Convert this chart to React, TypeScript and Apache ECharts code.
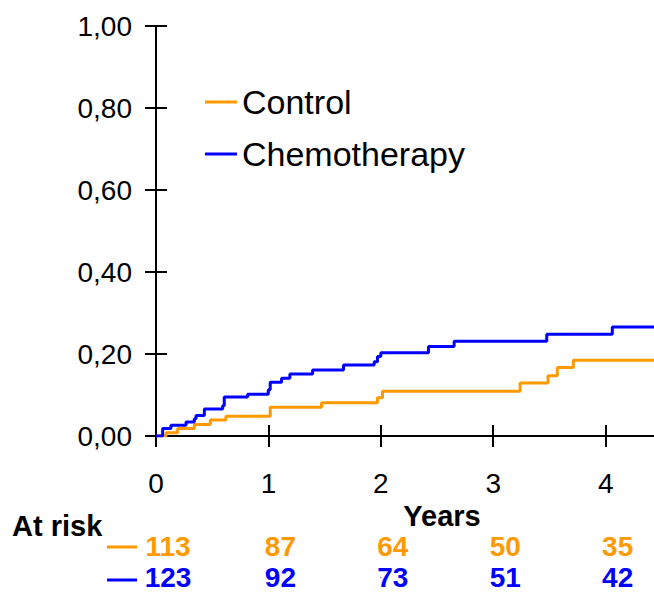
import React, { useEffect, useRef } from "react";
import * as echarts from "echarts";

const FONT = "'Liberation Sans', Arial, Helvetica, sans-serif";
const ORANGE = "#FF9900";
const BLUE = "#0000FF";
const X_MAX = 4.43;

const seriesNames = ["Control", "Chemotherapy"];

const controlTimes = [0, 0.089, 0.193, 0.341, 0.483, 0.622, 1.016, 1.473, 1.97, 2.015, 3.239, 3.487, 3.57, 3.713, 4.43];
const controlValues = [0, 0.008, 0.018, 0.028, 0.039, 0.048, 0.07, 0.081, 0.093, 0.109, 0.129, 0.147, 0.167, 0.185, 0.185];

const chemoTimes = [0, 0.059, 0.133, 0.267, 0.341, 0.356, 0.43, 0.593, 0.607, 0.815, 0.999, 1.016, 1.117, 1.191, 1.393, 1.668, 1.941, 1.97, 2.0, 2.424, 2.652, 3.476, 4.059, 4.43];
const chemoValues = [0, 0.018, 0.026, 0.034, 0.042, 0.05, 0.066, 0.074, 0.095, 0.102, 0.113, 0.131, 0.141, 0.151, 0.161, 0.173, 0.181, 0.194, 0.203, 0.218, 0.231, 0.248, 0.266, 0.266];

const xTickValues = [0, 1, 2, 3, 4];
const riskYears = [0, 1, 2, 3, 4];
const controlAtRisk = [113, 87, 64, 50, 35];
const chemoAtRisk = [123, 92, 73, 51, 42];

const yTicks = { min: 0, max: 1, interval: 0.2 };

export default function App() {
  const ref = useRef<HTMLDivElement>(null);

  useEffect(() => {
    if (!ref.current) return;
    const chart = echarts.init(ref.current, null, { renderer: "svg" });

    const pair = (ts: number[], vs: number[]) => ts.map((t, i) => [t, vs[i]]);
    const riskData = (name: string, arr: number[]) =>
      riskYears.map((y, i) => [y, name, arr[i]]);

    const baseX = {
      type: "value",
      min: 0,
      max: X_MAX,
      interval: 1,
      splitLine: { show: false },
    };
    const baseY = {
      type: "value",
      min: yTicks.min,
      max: yTicks.max,
      interval: yTicks.interval,
      splitLine: { show: false },
    };
    const axisLineStyle = { color: "#000", width: 2 };

    const riskLabel = (color: string) => ({
      show: true,
      position: "inside",
      offset: [12, 0],
      formatter: (p: any) => String(p.value[2]),
      fontSize: 28,
      fontWeight: "bold",
      fontFamily: FONT,
      color,
      opacity: 1,
    });

    chart.setOption({
      animation: false,
      grid: [
        { left: 156, right: 0, top: 26, bottom: 157 },
        { left: 156, right: 0, top: 530.5, height: 66 },
      ],
      xAxis: [
        {
          ...baseX,
          gridIndex: 0,
          position: "bottom",
          axisLine: { show: true, lineStyle: axisLineStyle },
          axisTick: { show: true, length: 11, lineStyle: axisLineStyle, customValues: xTickValues },
          axisLabel: {
            fontSize: 28,
            color: "#000",
            fontFamily: FONT,
            margin: 33,
            customValues: xTickValues,
            formatter: (v: number) => (Number.isInteger(v) ? String(v) : ""),
          },
        },
        {
          ...baseX,
          gridIndex: 0,
          position: "bottom",
          axisLine: { show: false },
          axisTick: {
            show: true,
            inside: true,
            length: 11,
            lineStyle: axisLineStyle,
            customValues: xTickValues,
          },
          axisLabel: { show: false },
        },
        { ...baseX, gridIndex: 1, show: false },
      ],
      yAxis: [
        {
          ...baseY,
          gridIndex: 0,
          position: "left",
          axisLine: { show: true, lineStyle: axisLineStyle },
          axisTick: { show: true, length: 11, lineStyle: axisLineStyle },
          axisLabel: {
            fontSize: 28,
            color: "#000",
            fontFamily: FONT,
            margin: 24,
            formatter: (v: number) => v.toFixed(2).replace(".", ","),
          },
        },
        {
          ...baseY,
          gridIndex: 0,
          position: "left",
          axisLine: { show: false },
          axisTick: { show: true, inside: true, length: 11, lineStyle: axisLineStyle },
          axisLabel: { show: false },
        },
        {
          type: "category",
          gridIndex: 1,
          data: seriesNames,
          inverse: true,
          show: false,
        },
      ],
      legend: {
        data: seriesNames,
        orient: "vertical",
        left: 200,
        top: 77,
        itemWidth: 32,
        itemHeight: 3,
        itemGap: 12,
        icon: "rect",
        textStyle: { fontSize: 34, color: "#000", fontFamily: FONT, lineHeight: 40 },
        selectedMode: false,
      },
      series: [
        {
          name: seriesNames[0],
          type: "line",
          step: "end",
          xAxisIndex: 0,
          yAxisIndex: 0,
          showSymbol: false,
          color: ORANGE,
          lineStyle: { color: ORANGE, width: 3 },
          data: pair(controlTimes, controlValues),
        },
        {
          name: seriesNames[1],
          type: "line",
          step: "end",
          xAxisIndex: 0,
          yAxisIndex: 0,
          showSymbol: false,
          color: BLUE,
          lineStyle: { color: BLUE, width: 3 },
          data: pair(chemoTimes, chemoValues),
        },
        {
          name: "risk-control",
          type: "scatter",
          xAxisIndex: 2,
          yAxisIndex: 2,
          symbolSize: 1,
          itemStyle: { color: ORANGE, opacity: 1 },
          label: riskLabel(ORANGE),
          data: riskData(seriesNames[0], controlAtRisk),
        },
        {
          name: "risk-chemo",
          type: "scatter",
          xAxisIndex: 2,
          yAxisIndex: 2,
          symbolSize: 1,
          itemStyle: { color: BLUE, opacity: 1 },
          label: riskLabel(BLUE),
          data: riskData(seriesNames[1], chemoAtRisk),
        },
      ],
      graphic: [
        {
          type: "text",
          x: 442,
          y: 516,
          style: {
            text: "Years",
            fontSize: 29,
            fontWeight: "bold",
            fontFamily: FONT,
            fill: "#000",
            align: "center",
            verticalAlign: "middle",
          },
        },
        {
          type: "text",
          x: 12,
          y: 526,
          style: {
            text: "At risk",
            fontSize: 29,
            fontWeight: "bold",
            fontFamily: FONT,
            fill: "#000",
            align: "left",
            verticalAlign: "middle",
          },
        },
        {
          type: "line",
          shape: { x1: 107, y1: 547, x2: 137, y2: 547 },
          style: { stroke: ORANGE, lineWidth: 3 },
        },
        {
          type: "line",
          shape: { x1: 107, y1: 580, x2: 137, y2: 580 },
          style: { stroke: BLUE, lineWidth: 3 },
        },
      ],
    });

    return () => chart.dispose();
  }, []);

  return (
    <div
      ref={ref}
      style={{ position: "fixed", left: 0, top: 0, width: 654, height: 593, background: "#fff" }}
    />
  );
}
